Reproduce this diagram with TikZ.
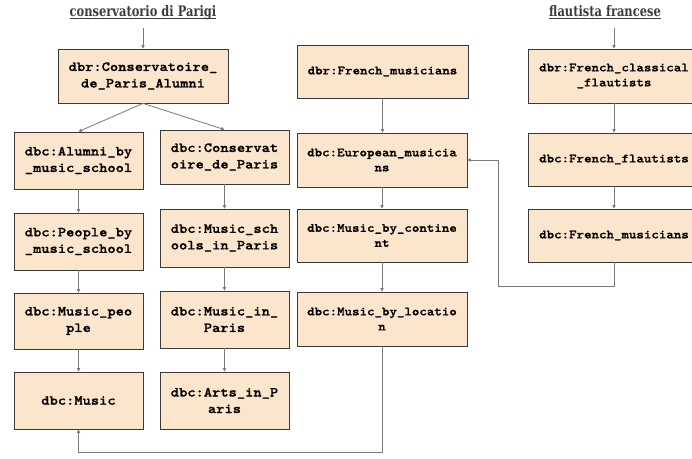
\documentclass[tikz,border=0pt]{standalone}
\usepackage{fontspec}
\usetikzlibrary{arrows.meta}
\newfontfamily\boxmono{lmmonolt10-bold}[Extension=.otf, FakeStretch=1.14, FakeBold=1.2]
\newfontfamily\titleserif{DejaVu Serif Bold}[FakeStretch=0.79]
\definecolor{boxfill}{HTML}{FCE5CD}
\definecolor{boxline}{HTML}{3A3A3A}
\definecolor{arrline}{HTML}{7A7A7A}
\definecolor{titlecol}{HTML}{3C3C3C}
\tikzset{
  box/.style={draw=boxline, line width=0.8pt, fill=boxfill, align=center, inner sep=0pt, text=black},
  lbox/.style={box, font=\boxmono\fontsize{13.8}{16.5}\selectfont},
  rbox/.style={box, font=\boxmono\fontsize{12.5}{15}\selectfont},
  arr/.style={draw=arrline, line width=0.8pt, -{Triangle[length=3.5pt,width=3.2pt]}},
  ttl/.style={font=\titleserif\fontsize{14.5}{16}\selectfont, text=titlecol, inner sep=0pt, anchor=base}
}
\begin{document}
\begin{tikzpicture}[x=1pt,y=-1pt]
\clip (0,0) rectangle (692,458);
\fill[white] (0,0) rectangle (692,458);
% titles
\node[ttl] (t1) at (143,16) {conservatorio di Parigi};
\draw[titlecol, line width=0.8pt] ([yshift=-2.5pt]t1.base west) -- ([yshift=-2.5pt]t1.base east);
\node[ttl] (t2) at (605,16) {flautista francese};
\draw[titlecol, line width=0.8pt] ([yshift=-2.5pt]t2.base west) -- ([yshift=-2.5pt]t2.base east);
\coordinate (t1a) at (143,28);
\coordinate (t2a) at (614,28);
% left columns
\node[lbox, minimum width=170pt, minimum height=54pt] (A) at (143,76) {dbr:Conservatoire\_\\de\_Paris\_Alumni};
\node[lbox, minimum width=129pt, minimum height=57pt] (B) at (78.5,160.5) {dbc:Alumni\_by\\\_music\_school};
\node[lbox, minimum width=129pt, minimum height=57pt] (C) at (78.5,241.5) {dbc:People\_by\\\_music\_school};
\node[lbox, minimum width=129pt, minimum height=56pt] (D) at (78.5,321) {dbc:Music\_peo\\ple};
\node[lbox, minimum width=129pt, minimum height=57pt] (E) at (78.5,400.5) {dbc:Music};
\node[lbox, minimum width=129pt, minimum height=54pt] (F) at (224.5,157) {dbc:Conservat\\oire\_de\_Paris};
\node[lbox, minimum width=129pt, minimum height=58pt] (G) at (224.5,238) {dbc:Music\_sch\\ools\_in\_Paris};
\node[lbox, minimum width=129pt, minimum height=57pt] (H) at (224.5,319.5) {dbc:Music\_in\_\\Paris};
\node[lbox, minimum width=129pt, minimum height=57pt] (I) at (224.5,400.5) {dbc:Arts\_in\_P\\aris};
% middle column
\node[rbox, minimum width=171pt, minimum height=53pt] (J) at (382.5,71.5) {dbr:French\_musicians};
\node[rbox, minimum width=170pt, minimum height=54pt] (K) at (382,160) {dbc:European\_musicia\\ns};
\node[rbox, minimum width=170pt, minimum height=53pt] (L) at (382,235.5) {dbc:Music\_by\_contine\\nt};
\node[rbox, minimum width=170pt, minimum height=54pt] (M) at (382,319) {dbc:Music\_by\_locatio\\n};
% right column
\node[rbox, minimum width=172pt, minimum height=54pt] (N) at (614,76) {dbr:French\_classical\\\_flautists};
\node[rbox, minimum width=172pt, minimum height=53pt] (O) at (614,159.5) {dbc:French\_flautists};
\node[rbox, minimum width=172pt, minimum height=53pt] (P) at (614,235.5) {dbc:French\_musicians};
% helper coordinates
\coordinate (bot) at (0,452);
\coordinate (pk) at (498,286);
% connectors
\draw[arr] (t1a) -- (A.north);
\draw[arr] (A.south) -- (B.north);
\draw[arr] (A.south) -- (F.north);
\draw[arr] (B.south) -- (C.north);
\draw[arr] (C.south) -- (D.north);
\draw[arr] (D.south) -- (E.north);
\draw[arr] (F.south) -- (G.north);
\draw[arr] (G.south) -- (H.north);
\draw[arr] (H.south) -- (I.north);
\draw[arr] (J.south) -- (J.south |- K.north);
\draw[arr] (K.south) -- (K.south |- L.north);
\draw[arr] (L.south) -- (L.south |- M.north);
\draw[arr] (M.south) -- (M.south |- bot) -| (E.south);
\draw[arr] (t2a) -- (N.north);
\draw[arr] (N.south) -- (O.north);
\draw[arr] (O.south) -- (P.north);
\draw[arr] (P.south) |- (pk) |- (K.east);
\end{tikzpicture}
\end{document}
